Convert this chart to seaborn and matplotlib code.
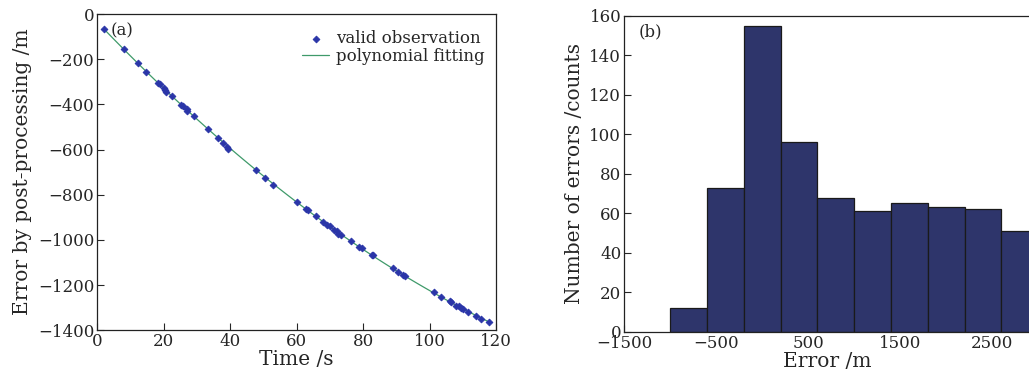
import matplotlib
matplotlib.use("Agg")
import matplotlib.pyplot as plt
import numpy as np
import pandas as pd
import seaborn as sns

# (a) post-processing error vs time
time_s = [2.1, 8.2, 12.4, 14.6, 18.4, 18.9, 20.2, 20.4, 20.6, 22.6, 25.2, 25.8,
          27.0, 27.1, 29.3, 33.3, 36.5, 37.8, 39.2, 39.4, 47.7, 50.4, 52.8, 60.1,
          62.8, 63.5, 65.8, 67.9, 69.3, 70.1, 71.4, 72.1, 72.6, 73.3, 76.4, 78.9,
          79.6, 82.6, 82.9, 88.9, 90.6, 91.9, 92.6, 101.4, 103.4, 106.0, 106.4,
          107.9, 108.7, 109.5, 110.0, 111.7, 113.9, 115.5, 118.0]
error_m = [-66, -156, -218, -255, -306, -309, -326, -336, -345, -361, -402, -405,
           -420, -429, -451, -507, -547, -569, -587, -599, -690, -724, -756, -833,
           -863, -866, -894, -919, -935, -937, -956, -959, -973, -978, -1004, -1032,
           -1034, -1065, -1069, -1125, -1143, -1155, -1158, -1232, -1254, -1270,
           -1275, -1291, -1294, -1302, -1304, -1320, -1336, -1350, -1364]

# (b) histogram of errors
bin_edges = [-1000, -600, -200, 200, 600, 1000, 1400, 1800, 2200, 2600, 3000]
bin_counts = [12, 73, 155, 96, 68, 61, 65, 63, 62, 51]

sns.set_style("ticks")
plt.rcParams["font.family"] = ["DejaVu Serif"]
plt.rcParams["font.size"] = 12
plt.rcParams["xtick.direction"] = "in"
plt.rcParams["ytick.direction"] = "in"

fig = plt.figure(figsize=(10.29, 3.8), dpi=100)
ax1 = fig.add_axes([0.0943, 0.131, 0.3878, 0.832])
ax2 = fig.add_axes([0.6064, 0.127, 0.3946, 0.831])

obs = pd.DataFrame({"Time": time_s, "Error": error_m})
sns.regplot(data=obs, x="Time", y="Error", order=2, ci=None, scatter=False,
            line_kws={"color": "#3f9a6a", "linewidth": 0.9}, ax=ax1,
            label="polynomial fitting")
sns.scatterplot(data=obs, x="Time", y="Error", marker="D", s=12, color="#2a35a8",
                edgecolor="#2a35a8", linewidth=0.6, ax=ax1, label="valid observation",
                zorder=3)
ax1.set_xlim(0, 120)
ax1.set_ylim(-1400, 0)
ax1.set_xticks(range(0, 121, 20))
ax1.set_yticks(range(-1400, 1, 200))
ax1.set_xlabel("Time /s", labelpad=0, fontsize=14.5)
ax1.set_ylabel("Error by post-processing /m", labelpad=4, fontsize=14.5)
ax1.text(0.035, 0.975, "(a)", transform=ax1.transAxes, ha="left", va="top")
handles, labels = ax1.get_legend_handles_labels()
order = [labels.index("valid observation"), labels.index("polynomial fitting")]
ax1.legend([handles[i] for i in order], [labels[i] for i in order],
           loc="upper right", bbox_to_anchor=(1.0, 0.985), frameon=False,
           handlelength=1.6, handletextpad=0.4, borderaxespad=0.3,
           labelspacing=0.05, fontsize=12)

centers = [(a + b) / 2 for a, b in zip(bin_edges[:-1], bin_edges[1:])]
hist = pd.DataFrame({"Error": centers, "Count": bin_counts})
sns.histplot(data=hist, x="Error", weights="Count", bins=bin_edges,
             color="#2e356b", edgecolor="#1a1a1a", linewidth=0.9, alpha=1, ax=ax2)
ax2.set_xlim(-1500, 2910)
ax2.set_ylim(0, 160)
ax2.set_xticks([-1500, -500, 500, 1500, 2500])
ax2.set_yticks(range(0, 161, 20))
ax2.set_xlabel("Error /m", labelpad=0, fontsize=14.5)
ax2.set_ylabel("Number of errors /counts", labelpad=4, fontsize=14.5)
ax2.text(0.035, 0.975, "(b)", transform=ax2.transAxes, ha="left", va="top")
ax2.spines["right"].set_visible(False)

for ax in (ax1, ax2):
    ax.tick_params(length=5, width=0.8, pad=2, labelsize=12)
    for sp in ax.spines.values():
        sp.set_linewidth(0.9)
        sp.set_color("#222222")

fig.savefig("out.png", dpi=100)
